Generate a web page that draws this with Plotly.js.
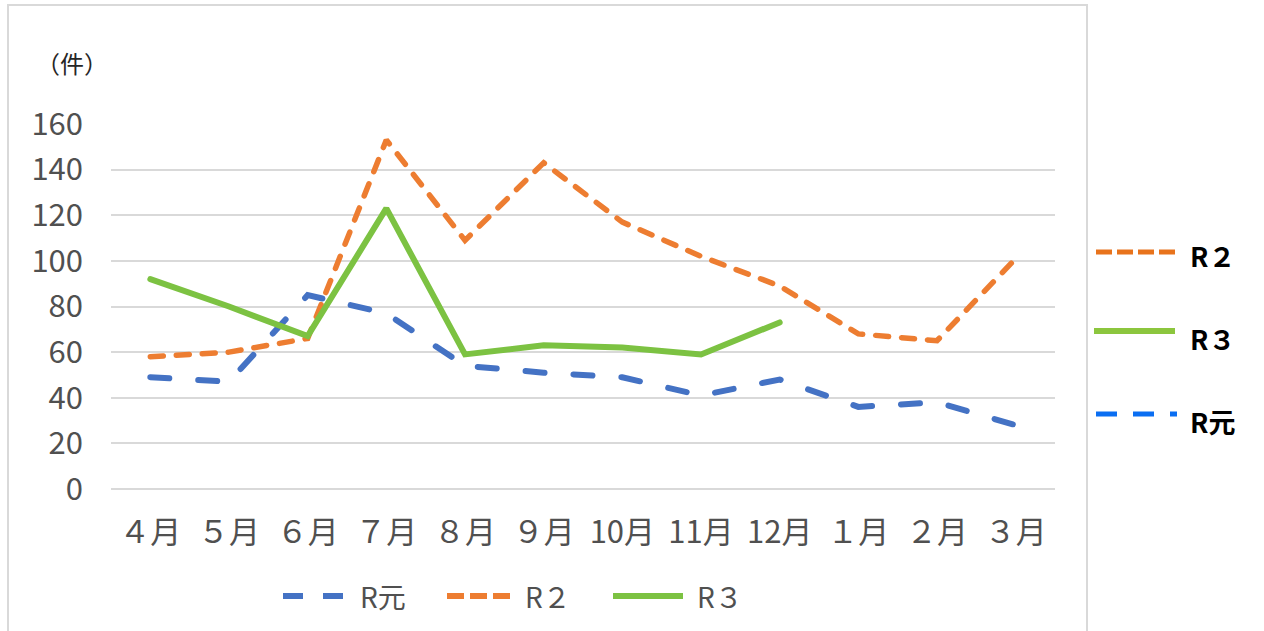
<!DOCTYPE html>
<html>
<head>
<meta charset="utf-8">
<script src="https://cdn.plot.ly/plotly-3.0.1.min.js"></script>
<style>
  html, body { margin: 0; padding: 0; background: #ffffff; }
  #chart { width: 1264px; height: 631px; }
  /* rounded ends on the series dashes */
  .js-line { stroke-linecap: round !important; }
</style>
</head>
<body>
<div id="chart"></div>
<script>
// Monthly counts (件), fiscal year April → March
const months = ['４月', '５月', '６月', '７月', '８月', '９月', '10月', '11月', '12月', '１月', '２月', '３月'];
const seriesNames = ['R元', 'R２', 'R３'];
const valuesRGan = [49, 47, 85, 77, 54, 51, 49, 41, 48, 36, 38, 28];
const valuesR2 = [58, 60, 66, 153, 109, 143, 117, 102, 89, 68, 65, 101];
const valuesR3 = [92, 80, 67, 123, 59, 63, 62, 59, 73];
const yTicks = [0, 20, 40, 60, 80, 100, 120, 140, 160];

const colBlue = '#4472C4';
const colOrange = '#ED7D31';
const colGreen = '#7CC242';
const textGrey = '#505050';
const fontJP = 'Noto Sans CJK JP, Noto Sans, sans-serif';

const traces = [
  { x: months, y: valuesRGan, name: seriesNames[0], type: 'scatter', mode: 'lines',
    line: { color: colBlue, width: 6, dash: '19px,29px' } },
  { x: months, y: valuesR2, name: seriesNames[1], type: 'scatter', mode: 'lines',
    line: { color: colOrange, width: 5.5, dash: '13px,13px' } },
  { x: months.slice(0, valuesR3.length), y: valuesR3, name: seriesNames[2], type: 'scatter', mode: 'lines',
    line: { color: colGreen, width: 6 } }
];

// plot area geometry in pixels, used to place the keys around it
const L = 111, R = 1055, T = 124, B = 489;
const px = v => (v - L) / (R - L);
const py = v => (B - v) / (B - T);

const shapes = [
  // outer frame
  { type: 'rect', xref: 'paper', yref: 'paper', x0: px(8), x1: px(1087), y0: py(660), y1: py(5),
    line: { color: '#D9D9D9', width: 2 }, fillcolor: 'rgba(0,0,0,0)', layer: 'below' },
  // bottom key
  { type: 'line', xref: 'paper', yref: 'paper', x0: px(283), x1: px(343), y0: py(596), y1: py(596),
    line: { color: colBlue, width: 6, dash: '20px,20px' } },
  { type: 'line', xref: 'paper', yref: 'paper', x0: px(447), x1: px(510), y0: py(596), y1: py(596),
    line: { color: colOrange, width: 6, dash: '17px,6px' } },
  { type: 'line', xref: 'paper', yref: 'paper', x0: px(613), x1: px(683), y0: py(596), y1: py(596),
    line: { color: colGreen, width: 6 } },
  // side key
  { type: 'line', xref: 'paper', yref: 'paper', x0: px(1096), x1: px(1177), y0: py(252), y1: py(252),
    line: { color: '#E8731C', width: 5, dash: '16px,5px' } },
  { type: 'line', xref: 'paper', yref: 'paper', x0: px(1094), x1: px(1175), y0: py(331), y1: py(331),
    line: { color: '#8CC63E', width: 6 } },
  { type: 'line', xref: 'paper', yref: 'paper', x0: px(1096), x1: px(1177), y0: py(414), y1: py(414),
    line: { color: '#0A6EF2', width: 5, dash: '21px,16px' } }
];

const keyFont = { family: fontJP, size: 28, color: textGrey };
const sideFont = { family: fontJP, size: 27, color: '#000000', weight: 700 };
const annotations = [
  { xref: 'paper', yref: 'paper', x: px(34), y: py(62), xanchor: 'left', yanchor: 'middle',
    text: '（件）', showarrow: false, font: { family: fontJP, size: 24, color: '#262626' } },
  { xref: 'paper', yref: 'paper', x: px(358), y: py(596), xanchor: 'left', yanchor: 'middle',
    text: seriesNames[0], showarrow: false, font: keyFont },
  { xref: 'paper', yref: 'paper', x: px(523), y: py(596), xanchor: 'left', yanchor: 'middle',
    text: seriesNames[1], showarrow: false, font: keyFont },
  { xref: 'paper', yref: 'paper', x: px(695), y: py(596), xanchor: 'left', yanchor: 'middle',
    text: seriesNames[2], showarrow: false, font: keyFont },
  { xref: 'paper', yref: 'paper', x: px(1188), y: py(255), xanchor: 'left', yanchor: 'middle',
    text: seriesNames[1], showarrow: false, font: sideFont },
  { xref: 'paper', yref: 'paper', x: px(1188), y: py(338), xanchor: 'left', yanchor: 'middle',
    text: seriesNames[2], showarrow: false, font: sideFont },
  { xref: 'paper', yref: 'paper', x: px(1188), y: py(421), xanchor: 'left', yanchor: 'middle',
    text: seriesNames[0], showarrow: false, font: sideFont }
];

const layout = {
  width: 1264,
  height: 631,
  margin: { l: L, r: 1264 - R, t: T, b: 631 - B, pad: 0 },
  paper_bgcolor: '#ffffff',
  plot_bgcolor: '#ffffff',
  showlegend: false,
  font: { family: fontJP, color: textGrey },
  xaxis: {
    type: 'category',
    categoryorder: 'array',
    categoryarray: months,
    range: [-0.5, months.length - 0.5],
    showgrid: false,
    zeroline: false,
    showline: false,
    ticks: '',
    ticklabelstandoff: 22,
    tickfont: { family: fontJP, size: 31, color: textGrey },
    fixedrange: true
  },
  yaxis: {
    range: [0, 160],
    tickvals: yTicks,
    ticktext: yTicks.map(String),
    showgrid: true,
    gridcolor: '#D9D9D9',
    gridwidth: 2,
    zeroline: true,
    zerolinecolor: '#D9D9D9',
    zerolinewidth: 2,
    showline: false,
    ticks: '',
    ticklabelstandoff: 27,
    tickfont: { family: fontJP, size: 31, color: textGrey },
    fixedrange: true
  },
  shapes: shapes,
  annotations: annotations
};

Plotly.newPlot('chart', traces, layout, { staticPlot: true, displayModeBar: false });
</script>
</body>
</html>
